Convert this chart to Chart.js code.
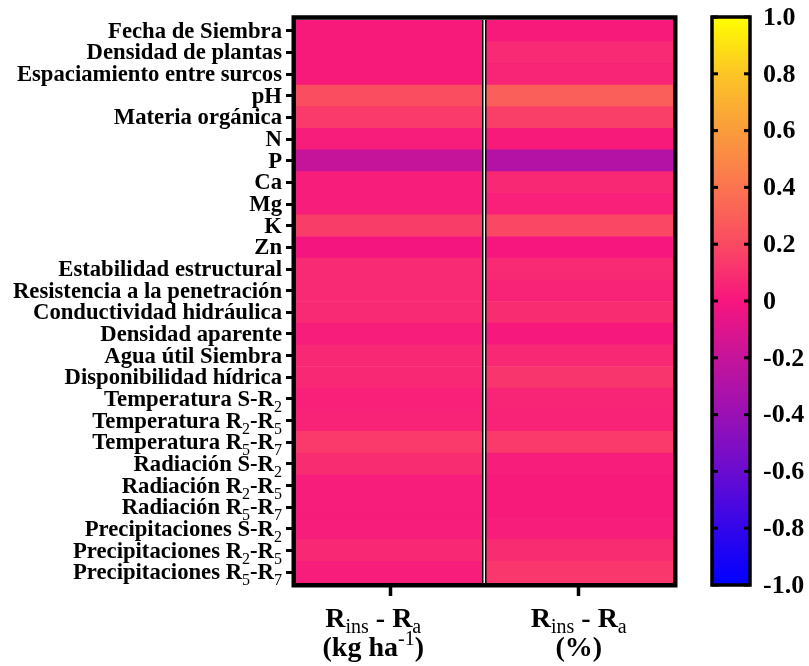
<!DOCTYPE html>
<html>
<head>
<meta charset="utf-8">
<script src="https://cdn.jsdelivr.net/npm/chart.js@4.4.1/dist/chart.umd.min.js"></script>
<style>
    html, body { margin: 0; background: #fff; }
    #wrap { width: 809px; height: 666px; position: relative; }
</style>
</head>
<body>
<div id="wrap"><canvas id="heat"></canvas></div>
<script>
// Row labels (_{..} = subscript, ^{..} = superscript)
const rows = [
    'Fecha de Siembra', 'Densidad de plantas', 'Espaciamiento entre surcos', 'pH',
    'Materia orgánica', 'N', 'P', 'Ca', 'Mg', 'K', 'Zn',
    'Estabilidad estructural', 'Resistencia a la penetración', 'Conductividad hidráulica',
    'Densidad aparente', 'Agua útil Siembra', 'Disponibilidad hídrica',
    'Temperatura S-R_{2}', 'Temperatura R_{2}-R_{5}', 'Temperatura R_{5}-R_{7}',
    'Radiación S-R_{2}', 'Radiación R_{2}-R_{5}', 'Radiación R_{5}-R_{7}',
    'Precipitaciones S-R_{2}', 'Precipitaciones R_{2}-R_{5}', 'Precipitaciones R_{5}-R_{7}',
];

const colTitles = [
    ['R_{ins} - R_{a}', '(kg ha^{-1})'],
    ['R_{ins} - R_{a}', '(%)'],
];

// correlation values
const valuesKg = [0.02, 0.02, 0.02, 0.22, 0.14, 0.03, -0.20, 0.03, 0.03, 0.15, -0.01, 0.08, 0.08,
                  0.08, 0.03, 0.07, 0.07, 0.04, 0.05, 0.14, 0.09, 0.03, 0.03, 0.03, 0.07, 0.03];
const valuesPct = [0.02, 0.08, 0.06, 0.30, 0.16, 0.02, -0.28, 0.07, 0.04, 0.19, 0.00, 0.08, 0.05,
                   0.09, 0.01, 0.07, 0.12, 0.06, 0.05, 0.14, 0.03, 0.02, 0.02, 0.03, 0.09, 0.13];

const cbTicks = [1, 0.8, 0.6, 0.4, 0.2, 0, -0.2, -0.4, -0.6, -0.8, -1];
const cbTickLabels = ['1.0', '0.8', '0.6', '0.4', '0.2', '0', '-0.2', '-0.4', '-0.6', '-0.8', '-1.0'];

const cmapStops = [-1, -0.8, -0.6, -0.4, -0.2, 0, 0.2, 0.4, 0.6, 0.8, 1];
const cmapColors = ['#0000ff', '#3306ea', '#6a0cd0', '#9a10b4', '#c5149a', '#f7157e',
                    '#fa4a62', '#fb7450', '#fa9c3c', '#fcc526', '#ffff00'];

const SERIF = '"Liberation Serif", "Times New Roman", serif';

function hexRgb(h) {
    return [1, 3, 5].map(i => parseInt(h.slice(i, i + 2), 16));
}

function colorFor(v) {
    v = Math.max(-1, Math.min(1, v));
    for (let i = 0; i < cmapStops.length - 1; i++) {
        if (v <= cmapStops[i + 1]) {
            const t = (v - cmapStops[i]) / (cmapStops[i + 1] - cmapStops[i]);
            const a = hexRgb(cmapColors[i]), b = hexRgb(cmapColors[i + 1]);
            const c = a.map((x, k) => Math.round(x + (b[k] - x) * t));
            return `rgb(${c[0]},${c[1]},${c[2]})`;
        }
    }
    return cmapColors[cmapColors.length - 1];
}

function parseRich(s) {
    const out = [];
    const re = /([_^])\{([^}]*)\}/g;
    let last = 0, m;
    while ((m = re.exec(s))) {
        if (m.index > last) out.push({ t: s.slice(last, m.index), k: 'n' });
        out.push({ t: m[2], k: m[1] === '_' ? 'sub' : 'sup' });
        last = re.lastIndex;
    }
    if (last < s.length) out.push({ t: s.slice(last), k: 'n' });
    return out;
}

// draw text with sub/superscripts; align 'right' or 'center'
function drawRich(ctx, s, x, y, size, align, subDrop = 0.27) {
    const segs = parseRich(s);
    const small = Math.round(size * 0.72);
    const fontOf = k => k === 'n' ? `bold ${size}px ${SERIF}` : `${small}px ${SERIF}`;
    let w = 0;
    segs.forEach(sg => { ctx.font = fontOf(sg.k); sg.w = ctx.measureText(sg.t).width; w += sg.w; });
    let cx = align === 'right' ? x - w : align === 'center' ? x - w / 2 : x;
    ctx.textAlign = 'left';
    ctx.textBaseline = 'alphabetic';
    segs.forEach(sg => {
        ctx.font = fontOf(sg.k);
        const dy = sg.k === 'sub' ? size * subDrop : sg.k === 'sup' ? -size * 0.4 : 0;
        ctx.fillText(sg.t, cx, y + dy);
        cx += sg.w;
    });
}

const decor = {
    id: 'decor',
    afterDraw(chart) {
        const { ctx, chartArea: a, scales: { x, y } } = chart;
        ctx.save();
        ctx.fillStyle = '#000';

        // column separator
        const sx = x.getPixelForValue(1);
        ctx.fillRect(sx - 2.5, a.top, 4.5, a.bottom - a.top);
        ctx.fillStyle = '#fff';
        ctx.fillRect(sx - 1, a.top, 1.5, a.bottom - a.top);

        // frame
        ctx.strokeStyle = '#000';
        ctx.lineWidth = 4.5;
        ctx.strokeRect(a.left - 2.25, a.top - 2.5, a.right - a.left + 4.5, a.bottom - a.top + 4.75);

        // row labels
        ctx.fillStyle = '#000';
        rows.forEach((r, i) => {
            drawRich(ctx, r, a.left - 14, y.getPixelForValue(i) + 7, 22.7, 'right');
        });

        // column titles (the first one sits a little left of its tick in the original)
        const shift = [-17, 0];
        colTitles.forEach((lines, i) => {
            const cx = x.getPixelForValue(i + 0.5) + shift[i];
            drawRich(ctx, lines[0], cx, 627, 28, 'center', 0.2);
            drawRich(ctx, lines[1], cx, 656, 28, 'center');
        });

        // colour bar
        const cb = { l: 712, r: 750, t: 17, b: 585 };
        const g = ctx.createLinearGradient(0, cb.b, 0, cb.t);
        cmapStops.forEach((s, i) => g.addColorStop((s + 1) / 2, cmapColors[i]));
        ctx.fillStyle = g;
        ctx.fillRect(cb.l, cb.t, cb.r - cb.l, cb.b - cb.t);
        ctx.lineWidth = 3.5;
        ctx.strokeRect(cb.l, cb.t, cb.r - cb.l, cb.b - cb.t);
        ctx.fillStyle = '#000';
        ctx.font = `bold 26px ${SERIF}`;
        ctx.textAlign = 'left';
        ctx.textBaseline = 'middle';
        cbTicks.forEach((v, i) => {
            const py = cb.b - (v + 1) / 2 * (cb.b - cb.t);
            ctx.fillRect(cb.l, py - 1.5, 6, 3);
            ctx.fillRect(cb.r - 6, py - 1.5, 6, 3);
            ctx.fillText(cbTickLabels[i], cb.r + 13, py + 1);
        });
        ctx.restore();
    },
};

const series = [valuesKg, valuesPct];

new Chart(document.getElementById('heat'), {
    type: 'bar',
    data: {
        labels: rows,
        datasets: series.map((vals, i) => ({
            label: colTitles[i][1],
            data: vals.map(() => 1),
            backgroundColor: vals.map(colorFor),
            borderWidth: 0,
            barPercentage: 1,
            categoryPercentage: 1,
        })),
    },
    options: {
        indexAxis: 'y',
        responsive: true,
        maintainAspectRatio: false,
        animation: false,
        layout: { padding: { left: 286, right: 136, top: 20, bottom: 0 } },
        plugins: { legend: { display: false }, tooltip: { enabled: false } },
        scales: {
            x: {
                type: 'linear', stacked: true, min: 0, max: 2,
                afterBuildTicks: s => { s.ticks = series.map((_, i) => ({ value: i + 0.5 })); },
                ticks: { display: false },
                grid: { drawOnChartArea: false, drawTicks: true, tickLength: 13, tickWidth: 3.5, color: '#000' },
                border: { display: false },
                afterFit: s => { s.height = 83; },
            },
            y: {
                type: 'category', stacked: true,
                ticks: { display: false },
                grid: { drawOnChartArea: false, drawTicks: true, tickLength: 10, tickWidth: 3, color: '#000', offset: false },
                border: { display: false },
                afterFit: s => { s.width = 10; },
            },
        },
    },
    plugins: [decor],
});
</script>
</body>
</html>
